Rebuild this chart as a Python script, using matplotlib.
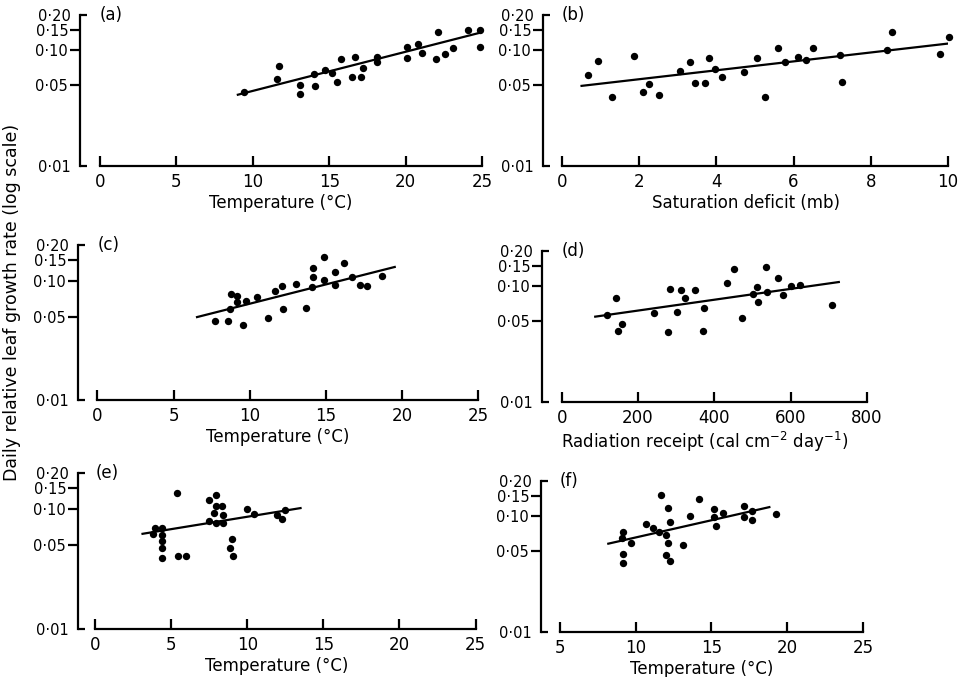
import matplotlib
matplotlib.use('Agg')
import matplotlib.pyplot as plt
from matplotlib.ticker import NullLocator

# ---------------- data ----------------
a_x = [9.4, 11.7, 11.6, 13.1, 13.1, 14.1, 14.0, 14.7, 15.2, 15.5, 15.8, 16.5, 16.7, 17.1,
       17.2, 18.1, 18.1, 20.1, 20.1, 20.8, 21.1, 22.1, 22.0, 22.6, 23.1, 24.1, 24.9, 24.9]
a_y = [0.043, 0.073, 0.056, 0.050, 0.042, 0.049, 0.062, 0.067, 0.063, 0.053, 0.083, 0.058,
       0.087, 0.059, 0.070, 0.087, 0.078, 0.107, 0.086, 0.112, 0.095, 0.144, 0.084, 0.092,
       0.103, 0.148, 0.148, 0.107]
a_fit_x = [8.95, 24.97]
a_fit_y = [0.0409, 0.1418]

b_x = [0.68, 0.94, 1.29, 1.87, 2.11, 2.26, 2.52, 3.06, 3.33, 3.45, 3.71, 3.82, 3.96, 4.15,
       4.72, 5.06, 5.26, 5.60, 5.79, 6.12, 6.32, 6.51, 7.20, 7.26, 8.41, 8.55, 9.79, 10.03]
b_y = [0.061, 0.081, 0.039, 0.088, 0.043, 0.051, 0.041, 0.066, 0.078, 0.052, 0.052, 0.086,
       0.068, 0.058, 0.064, 0.086, 0.039, 0.103, 0.078, 0.087, 0.082, 0.103, 0.090, 0.053,
       0.100, 0.142, 0.093, 0.130]
b_fit_x = [0.48, 10.18]
b_fit_y = [0.0489, 0.1153]

c_x = [7.72, 8.59, 9.57, 8.70, 8.74, 9.18, 9.14, 9.73, 10.45, 11.22, 11.65, 12.14, 12.20,
       13.03, 13.69, 14.08, 14.17, 14.17, 14.87, 14.87, 15.59, 15.59, 16.17, 16.69, 17.26,
       17.72, 18.68]
c_y = [0.046, 0.046, 0.043, 0.058, 0.078, 0.074, 0.067, 0.068, 0.073, 0.049, 0.083, 0.090,
       0.058, 0.094, 0.059, 0.088, 0.127, 0.108, 0.158, 0.101, 0.119, 0.093, 0.142, 0.107,
       0.093, 0.091, 0.110]
c_fit_x = [6.47, 19.6]
c_fit_y = [0.0494, 0.1315]

d_x = [120, 142, 147, 159, 242, 279, 284, 303, 312, 324, 348, 372, 371, 433, 452, 473, 501,
       513, 515, 535, 537, 566, 580, 600, 624, 708]
d_y = [0.056, 0.078, 0.041, 0.047, 0.059, 0.040, 0.094, 0.060, 0.092, 0.079, 0.093, 0.064,
       0.041, 0.107, 0.139, 0.053, 0.085, 0.097, 0.072, 0.145, 0.089, 0.117, 0.083, 0.099,
       0.102, 0.068]
d_fit_x = [85, 729]
d_fit_y = [0.0542, 0.1084]

e_x = [5.41, 3.91, 3.81, 4.42, 4.36, 4.36, 4.36, 4.39, 5.45, 5.95, 7.47, 7.97, 7.93, 8.34,
       7.82, 8.41, 7.47, 7.93, 8.42, 9.00, 8.89, 9.03, 10.01, 10.43, 11.92, 12.51, 12.31]
e_y = [0.135, 0.070, 0.062, 0.070, 0.061, 0.054, 0.047, 0.039, 0.041, 0.041, 0.118, 0.132,
       0.107, 0.107, 0.093, 0.090, 0.079, 0.077, 0.076, 0.056, 0.047, 0.041, 0.100, 0.091,
       0.090, 0.099, 0.083]
e_fit_x = [3.04, 13.57]
e_fit_y = [0.062, 0.1023]

f_x = [11.70, 14.16, 12.14, 12.25, 13.61, 15.17, 15.77, 15.17, 15.33, 17.15, 17.15, 17.70,
       17.66, 19.28, 10.71, 11.11, 11.55, 12.03, 12.14, 12.03, 12.25, 13.09, 9.13, 9.07,
       9.66, 9.17, 9.13]
f_y = [0.153, 0.141, 0.118, 0.089, 0.099, 0.114, 0.105, 0.097, 0.082, 0.121, 0.098, 0.111,
       0.092, 0.103, 0.086, 0.078, 0.072, 0.069, 0.058, 0.046, 0.041, 0.056, 0.073, 0.065,
       0.058, 0.047, 0.039]
f_fit_x = [8.12, 18.89]
f_fit_y = [0.0574, 0.1197]

temp_ticks = [0, 5, 10, 15, 20, 25]
sd_ticks = [0, 2, 4, 6, 8, 10]
rad_ticks = [0, 200, 400, 600, 800]
temp_ticks_f = [5, 10, 15, 20, 25]

y_major = [0.05, 0.10, 0.15]
y_major_labels = ['0·05', '0·10', '0·15']
y_end = [0.01, 0.20]
y_end_labels = ['0·01', '0·20']

panel_letters = ['(a)', '(b)', '(c)', '(d)', '(e)', '(f)']
x_labels = ['Temperature (°C)', 'Saturation deficit (mb)', 'Temperature (°C)',
            r'Radiation receipt (cal cm$^{-2}$ day$^{-1}$)', 'Temperature (°C)',
            'Temperature (°C)']
y_label = 'Daily relative leaf growth rate (log scale)'

# ---------------- layout ----------------
W, H = 964, 677
fig = plt.figure(figsize=(W / 100, H / 100), dpi=100)
plt.rcParams['font.family'] = ['DejaVu Sans']

# (left px, right px, top px, bottom px, xlim left)
layout = [
    (80, 482, 15, 166, -1.31),
    (543, 948, 15, 166, -0.49),
    (78, 478, 245, 400, -1.28),
    (542, 867, 251, 402, -51.6),
    (78, 475.5, 473, 629, -1.13),
    (541, 863, 481, 632, 3.75),
]
series = [
    (a_x, a_y, a_fit_x, a_fit_y, temp_ticks),
    (b_x, b_y, b_fit_x, b_fit_y, sd_ticks),
    (c_x, c_y, c_fit_x, c_fit_y, temp_ticks),
    (d_x, d_y, d_fit_x, d_fit_y, rad_ticks),
    (e_x, e_y, e_fit_x, e_fit_y, temp_ticks),
    (f_x, f_y, f_fit_x, f_fit_y, temp_ticks_f),
]

LW = 1.6
FS = 12
YFS = 10.5
for (l, r, t, b, xl), (xs, ys, fx, fy, ticks), letter, xlab in zip(layout, series, panel_letters, x_labels):
    ax = fig.add_axes([l / W, 1 - b / H, (r - l) / W, (b - t) / H])
    ax.set_yscale('log')
    ax.set_ylim(0.01, 0.2)
    ax.set_xlim(xl, ticks[-1])
    for s in ('top', 'right'):
        ax.spines[s].set_visible(False)
    for s in ('left', 'bottom'):
        ax.spines[s].set_linewidth(LW)
    ax.spines['bottom'].set_bounds(ticks[0], ticks[-1])
    ax.yaxis.set_minor_locator(NullLocator())
    ax.set_yticks(y_major, labels=y_major_labels)
    ax.set_yticks(y_end, labels=y_end_labels, minor=True)
    ax.tick_params(axis='y', which='major', direction='out', length=7, width=LW, pad=1.5, labelsize=YFS)
    ax.tick_params(axis='y', which='minor', direction='in', length=5, width=LW, pad=6.5, labelsize=YFS)
    ax.set_xticks(ticks, labels=[str(v) for v in ticks])
    ax.tick_params(axis='x', which='major', direction='in', length=7, width=LW, pad=5, labelsize=FS)
    ax.plot(fx, fy, '-', color='black', lw=LW, solid_capstyle='butt')
    ax.plot(xs, ys, 'o', color='black', ms=5.3, mew=0, clip_on=False)
    ax.set_xlabel(xlab, fontsize=FS, labelpad=2)
    ax.text(ticks[0], 1.0, letter, transform=ax.get_xaxis_transform(),
            ha='left', va='center', fontsize=FS)

fig.text(12 / W, 1 - 302 / H, y_label, rotation=90, ha='center', va='center', fontsize=12.5)

fig.savefig('out.png', dpi=100)
